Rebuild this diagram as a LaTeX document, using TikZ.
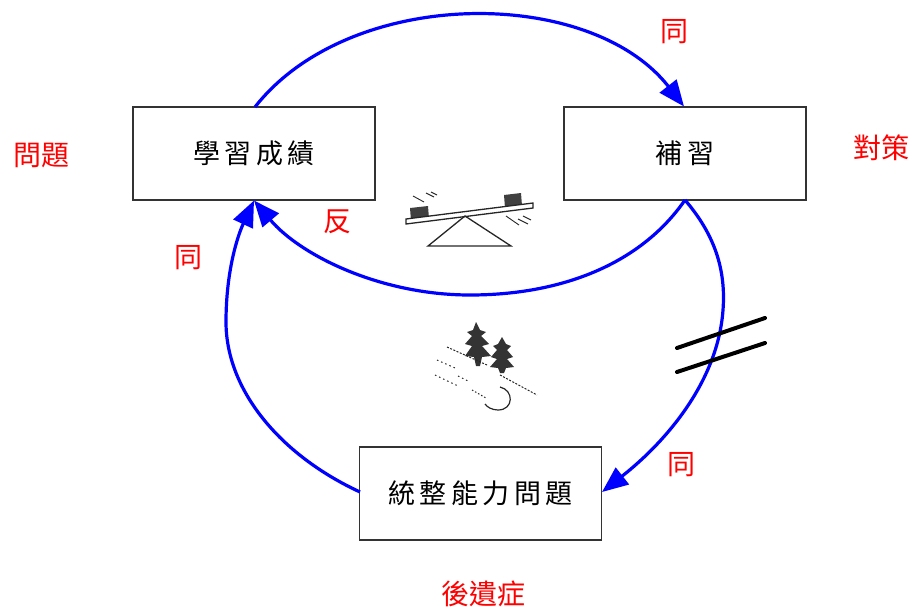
\documentclass[tikz,border=0pt]{standalone}
\usepackage{fontspec}
\newfontfamily\cjk{Noto Sans CJK TC}
\usetikzlibrary{arrows.meta}
\definecolor{loopblue}{RGB}{0,0,255}
\definecolor{tagred}{RGB}{255,0,0}
\tikzset{
  stagebox/.style={draw=black!80, line width=1.2pt, fill=white, minimum width=242pt, minimum height=93pt, inner sep=0pt, font=\cjk\fontsize{27}{30}\selectfont},
  link/.style={draw=loopblue, line width=3.2pt, -{Triangle[length=26pt,width=21pt]}},
  tag/.style={text=tagred, inner sep=0pt, font=\cjk\fontsize{28}{30}\selectfont},
  breakmark/.style={line width=4pt, line cap=round},
  sketch/.style={line width=1pt, black!85}
}
\begin{document}
\begin{tikzpicture}[x=1pt,y=-1pt]
\useasboundingbox (0,0) rectangle (913,608);

% the three stages
\node[stagebox] (score) at (254,153.5) {學\,習\,成\,績};
\node[stagebox] (tutor) at (685,153.5) {補\,習};
\node[stagebox] (skill) at (480.5,493.5) {統\,整\,能\,力\,問\,題};

% anchor points on the boxes
\coordinate (scoreTop) at (255,107);
\coordinate (scoreBot) at (254,200.5);
\coordinate (tutorTop) at (684,106.5);
\coordinate (tutorBot) at (685,200);
\coordinate (skillL) at (360,492);
\coordinate (skillRight) at (602,492);

% loop arrows
\draw[link] (scoreTop) .. controls (350,-14) and (590,-14) .. (tutorTop);
\draw[link] (tutorBot) .. controls (640,265) and (560,295) .. (470,295)
             .. controls (380,295) and (300,255) .. (scoreBot);
\draw[link] (tutorBot) .. controls (715,235) and (726,270) .. (723,310)
             .. controls (718,380) and (668,440) .. (skillRight);
\draw[link] (skillL) .. controls (280,455) and (226,390) .. (226,322)
             .. controls (226,270) and (238,235) .. (scoreBot);

% break marks on the delayed link
\draw[breakmark] (677,348) -- (765,318);
\draw[breakmark] (677,372) -- (765,343);

% side labels
\node[tag] (lblProblem) at (41,155) {問題};
\node[tag] (lblMeasure) at (881,148) {對策};
\node[tag] (lblAfter) at (483,594) {後遺症};
\node[tag] (lblSame1) at (674,32) {同};
\node[tag] (lblOpp) at (337,222) {反};
\node[tag] (lblSame2) at (188,258) {同};
\node[tag] (lblSame3) at (681,465) {同};

% seesaw
\fill[black!75] (410,208) -- (428,206) -- (429,219) -- (411,221) -- cycle;
\fill[black!75] (504,195) -- (521,193) -- (522,206) -- (505,208) -- cycle;
\draw[sketch, line width=1.3pt, fill=white] (406,219) -- (533,203) -- (533,208) -- (406,224) -- cycle;
\draw[sketch, line width=1.3pt] (465,216) -- (428,246) -- (511,246) -- cycle;
\draw[sketch, line width=0.9pt] (413,196) -- (424,202) (426,193) -- (434,197) (431,192) -- (437,195);
\draw[sketch, line width=0.9pt] (506,216) -- (519,225) (518,219) -- (528,224) (523,216) -- (531,220);

% trees on a snowy slope with a rolling snowball
\begin{scope}[black!80]
  \fill (476,322) -- (480,330) -- (486,332) -- (481,336) -- (489,344) -- (482,346) -- (491,356) -- (482,357) -- (480,366) -- (476,366) -- (474,357) -- (465,356) -- (472,346) -- (465,344) -- (472,336) -- (467,332) -- (473,330) -- cycle;
  \fill (502,337) -- (506,344) -- (511,346) -- (507,350) -- (513,357) -- (507,359) -- (514,367) -- (506,368) -- (504,373) -- (500,373) -- (498,368) -- (490,367) -- (497,359) -- (491,357) -- (497,350) -- (493,346) -- (498,344) -- cycle;
\end{scope}
\draw[sketch, dash pattern=on 2pt off 1.5pt] (447,347) -- (487,365);
\draw[sketch, dash pattern=on 2pt off 1.5pt] (500,375) -- (537,395);
\draw[sketch, dash pattern=on 1.5pt off 3pt] (437,360) -- (455,368);
\draw[sketch, dash pattern=on 1.5pt off 3pt] (435,375) -- (458,386);
\draw[sketch, dash pattern=on 1.5pt off 3pt] (458,376) -- (470,382);
\draw[sketch, dash pattern=on 1.5pt off 2pt] (472,390) -- (486,398);
\draw[sketch, line width=1.2pt] (500,387) .. controls (514,390) and (514,410) .. (498,410) .. controls (492,410) and (487,407) .. (485,404);
\end{tikzpicture}
\end{document}
